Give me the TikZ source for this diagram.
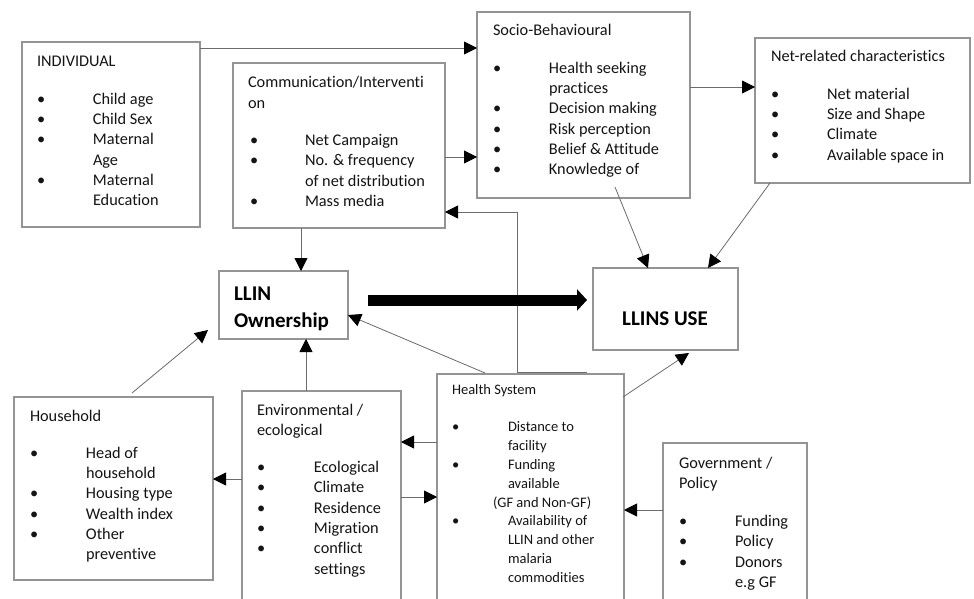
\documentclass[tikz,border=0pt]{standalone}
\usepackage{fontspec}
\setmainfont{Carlito}[Ligatures=NoCommon]
\usetikzlibrary{arrows.meta,calc}
\tikzset{
  box/.style={draw=black!42, line width=1.1pt, rectangle, inner sep=0pt, outer sep=0pt, anchor=north west},
  conn/.style={draw=black!58, line width=0.8pt, -{Triangle[length=13pt,width=13pt,black]}},
  bigarrow/.style={draw=black, line width=11pt, -{Triangle[length=10pt,width=21pt,black]}},
  txt/.style={inner sep=0pt, outer sep=0pt, anchor=base west, text=black!92, align=left,
    font=\fontsize{16.3}{20.3}\selectfont},
  smalltxt/.style={txt, font=\fontsize{14.5}{18.9}\selectfont},
  boldtxt/.style={inner sep=0pt, outer sep=0pt, text=black, font=\fontsize{21}{27}\selectfont\bfseries}
}
\newcommand{\itemrow}[1]{\textbullet & #1\\}
\newcommand{\controw}[1]{ & #1\\}
\begin{document}
\begin{tikzpicture}[x=1pt,y=-1pt]
\useasboundingbox (0,0) rectangle (974,599);
\clip (0,0) rectangle (974,599);
\fill[white] (0,0) rectangle (974,599);

% boxes
\node[box, minimum width=178pt, minimum height=185pt] (indiv) at (22,42) {};
\node[box, minimum width=212pt, minimum height=165pt] (comm) at (233,63) {};
\node[box, minimum width=213pt, minimum height=186pt] (socio) at (477,12) {};
\node[box, minimum width=215pt, minimum height=145pt] (net) at (755,38) {};
\node[box, minimum width=129pt, minimum height=68pt] (own) at (219,271) {};
\node[box, minimum width=145pt, minimum height=82pt] (use) at (593,268) {};
\node[box, minimum width=199pt, minimum height=183pt] (house) at (14,397) {};
\node[box, minimum width=159pt, minimum height=240pt] (env) at (242,391) {};
\node[box, minimum width=187pt, minimum height=250pt] (health) at (437,374) {};
\node[box, minimum width=144pt, minimum height=180pt] (gov) at (663,443) {};

% texts
\node[txt] (indivtxt) at (37,67) {\begin{tabular}[t]{@{}p{56pt}@{}l@{}}
\multicolumn{2}{@{}l@{}}{INDIVIDUAL}\\[17pt]
\itemrow{Child age}
\itemrow{Child Sex}
\itemrow{Maternal}
\controw{Age}
\itemrow{Maternal}
\controw{Education}
\end{tabular}};

\node[txt] (commtxt) at (248,88) {\begin{tabular}[t]{@{}p{57pt}@{}l@{}}
\multicolumn{2}{@{}l@{}}{Communication/Interventi}\\
\multicolumn{2}{@{}l@{}}{on}\\[17pt]
\hspace{2pt}\textbullet & Net Campaign\\
\hspace{2pt}\textbullet & No. \& frequency\\
\controw{of net distribution}
\hspace{2pt}\textbullet & Mass media\\
\end{tabular}};

\node[txt] (sociotxt) at (493,36) {\begin{tabular}[t]{@{}p{56pt}@{}l@{}}
\multicolumn{2}{@{}l@{}}{Socio-Behavioural}\\[17pt]
\itemrow{Health seeking}
\controw{practices}
\itemrow{Decision making}
\itemrow{Risk perception}
\itemrow{Belief \& Attitude}
\itemrow{Knowledge of}
\end{tabular}};

\node[txt] (nettxt) at (771,62) {\begin{tabular}[t]{@{}p{56pt}@{}l@{}}
\multicolumn{2}{@{}l@{}}{Net-related characteristics}\\[17pt]
\itemrow{Net material}
\itemrow{Size and Shape}
\itemrow{Climate}
\itemrow{Available space in}
\end{tabular}};

\node[boldtxt, anchor=base west, align=left] (owntxt) at (234,327) {LLIN\\Ownership};
\node[boldtxt, anchor=center] (usetxt) at (665,319) {LLINS USE};

\node[txt] (housetxt) at (30,421) {\begin{tabular}[t]{@{}p{56pt}@{}l@{}}
\multicolumn{2}{@{}l@{}}{Household}\\[17pt]
\itemrow{Head of}
\controw{household}
\itemrow{Housing type}
\itemrow{Wealth index}
\itemrow{Other}
\controw{preventive}
\end{tabular}};

\node[txt] (envtxt) at (257,415) {\begin{tabular}[t]{@{}p{57pt}@{}l@{}}
\multicolumn{2}{@{}l@{}}{Environmental /}\\
\multicolumn{2}{@{}l@{}}{ecological}\\[17pt]
\itemrow{Ecological}
\itemrow{Climate}
\itemrow{Residence}
\itemrow{Migration}
\itemrow{conflict}
\controw{settings}
\end{tabular}};

\node[smalltxt] (healthtxt) at (452,394.5) {\begin{tabular}[t]{@{}p{56pt}@{}l@{}}
\multicolumn{2}{@{}l@{}}{Health System}\\[18pt]
\itemrow{Distance to}
\controw{facility}
\itemrow{Funding}
\controw{available}
\multicolumn{2}{@{\hspace{41pt}}l@{}}{(GF and Non-GF)}\\
\itemrow{Availability of}
\controw{LLIN and other}
\controw{malaria}
\controw{commodities}
\end{tabular}};

\node[txt] (govtxt) at (679,468) {\begin{tabular}[t]{@{}p{56pt}@{}l@{}}
\multicolumn{2}{@{}l@{}}{Government /}\\
\multicolumn{2}{@{}l@{}}{Policy}\\[18pt]
\itemrow{Funding}
\itemrow{Policy}
\itemrow{Donors}
\controw{e.g GF}
\end{tabular}};

% connectors
\draw[conn] (indiv.east |- 0,48) -- (socio.west |- 0,48);
\draw[conn] (comm.east |- 0,157) -- (socio.west |- 0,157);
\draw[conn] (socio.east |- 0,87) -- (net.west |- 0,87);
\draw[conn] ($(health.north west)+(150,-2)$) -- ($(health.north west)+(80,-2)$) |- (comm.east |- 0,212);
\draw[conn] (comm.south -| 301,0) -- (own.north -| 301,0);
\draw[conn] ($(socio.south west)+(138,-11)$) -- (use.north -| 648,0);
\draw[conn] (net.south -| 770,0) -- (use.north -| 708,0);
\draw[bigarrow] ($(own.east |- 0,300)+(20,0)$) -- ($(use.west |- 0,300)+(-6,0)$);
\draw[conn] ($(house.north west)+(118,-4)$) -- ($(own.south west)+(-11,-9)$);
\draw[conn] (env.north -| 306,0) -- (own.south -| 306,0);
\draw[conn] ($(health.north west)+(48,-1)$) -- (own.east |- 0,315);
\draw[conn] ($(health.north east)+(-1,23)$) -- ($(use.south west)+(96,3)$);
\draw[conn] (health.west |- 0,442) -- (env.east |- 0,442);
\draw[conn] (env.east |- 0,497) -- (health.west |- 0,497);
\draw[conn] (env.west |- 0,479) -- (house.east |- 0,479);
\draw[conn] (gov.west |- 0,510) -- (health.east |- 0,510);
\end{tikzpicture}
\end{document}
